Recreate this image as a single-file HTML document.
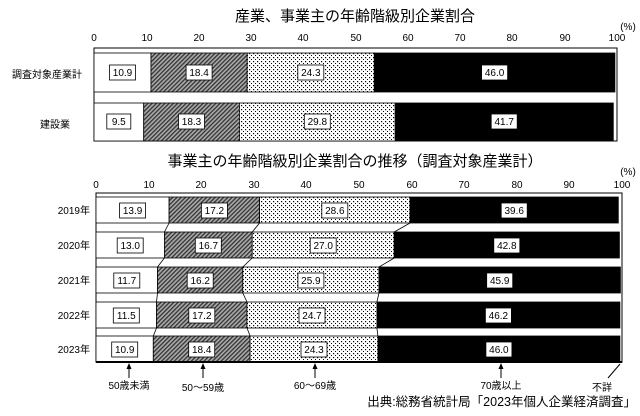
<!DOCTYPE html>
<html><head><meta charset="utf-8"><style>
body{margin:0;background:#fff}
svg text{font-family:"Liberation Sans","Noto Sans CJK JP",sans-serif}
</style></head><body>
<svg width="640" height="411" viewBox="0 0 640 411" xmlns="http://www.w3.org/2000/svg">
<defs>
<pattern id="h" width="3" height="3" patternUnits="userSpaceOnUse" patternTransform="rotate(-45)">
<rect width="3" height="3" fill="#aaa"/><rect width="3" height="1.3" fill="#333"/></pattern>
<pattern id="d" width="4" height="4" patternUnits="userSpaceOnUse">
<rect width="4" height="4" fill="#fff"/><rect x="1" y="1" width="1.2" height="1.2" fill="#000"/><rect x="3" y="3" width="1.2" height="1.2" fill="#000"/></pattern>
</defs>
<g font-size="14" text-anchor="middle" fill="#000">
<text x="355" y="21" font-size="15">産業、事業主の年齢階級別企業割合</text>
<text x="355" y="166" font-size="15">事業主の年齢階級別企業割合の推移（調査対象産業計）</text>
</g>
<g font-size="10" text-anchor="middle">
<text x="628" y="30">(%)</text>
<text x="94" y="41">0</text><text x="147" y="41">10</text><text x="199" y="41">20</text><text x="251" y="41">30</text><text x="303" y="41">40</text><text x="356" y="41">50</text><text x="408" y="41">60</text><text x="460" y="41">70</text><text x="512" y="41">80</text><text x="565" y="41">90</text><text x="617" y="41">100</text>
<text x="628" y="175">(%)</text>
<text x="96" y="188">0</text><text x="149" y="188">10</text><text x="201" y="188">20</text><text x="254" y="188">30</text><text x="306" y="188">40</text><text x="359" y="188">50</text><text x="412" y="188">60</text><text x="464" y="188">70</text><text x="517" y="188">80</text><text x="569" y="188">90</text><text x="622" y="188">100</text>
</g>
<!-- top chart -->
<rect x="94" y="48" width="523" height="93" fill="#fff" stroke="#000"/>
<g stroke="#000" stroke-width="0.8">
<rect x="94" y="53" width="57" height="39" fill="#fff"/>
<rect x="151" y="53" width="96.2" height="39" fill="url(#h)"/>
<rect x="247.2" y="53" width="127.1" height="39" fill="url(#d)"/>
<rect x="374.3" y="53" width="240.6" height="39" fill="#000"/>
<rect x="94" y="103" width="49.7" height="38" fill="#fff"/>
<rect x="143.7" y="103" width="95.7" height="38" fill="url(#h)"/>
<rect x="239.4" y="103" width="155.8" height="38" fill="url(#d)"/>
<rect x="395.2" y="103" width="218.1" height="38" fill="#000"/>
</g>
<g font-size="10" text-anchor="end">
<text x="82" y="78">調査対象産業計</text>
<text x="70" y="128">建設業</text>
<text x="90" y="214">2019年</text><text x="90" y="249">2020年</text><text x="90" y="284">2021年</text><text x="90" y="319">2022年</text><text x="90" y="353">2023年</text>
</g>
<!-- bottom chart -->
<rect x="96" y="193" width="526" height="169" fill="#fff" stroke="#000"/>
<g stroke="#000" stroke-width="0.8">
<rect x="96" y="197" width="73.1" height="26" fill="#fff"/><rect x="169.1" y="197" width="90.5" height="26" fill="url(#h)"/><rect x="259.6" y="197" width="150.4" height="26" fill="url(#d)"/><rect x="410" y="197" width="208.3" height="26" fill="#000"/>
<rect x="96" y="232" width="68.4" height="26" fill="#fff"/><rect x="164.4" y="232" width="87.8" height="26" fill="url(#h)"/><rect x="252.2" y="232" width="142" height="26" fill="url(#d)"/><rect x="394.2" y="232" width="225.2" height="26" fill="#000"/>
<rect x="96" y="267" width="61.5" height="26" fill="#fff"/><rect x="157.5" y="267" width="85.3" height="26" fill="url(#h)"/><rect x="242.8" y="267" width="136.2" height="26" fill="url(#d)"/><rect x="379" y="267" width="241.4" height="26" fill="#000"/>
<rect x="96" y="302" width="60.5" height="26" fill="#fff"/><rect x="156.5" y="302" width="90.5" height="26" fill="url(#h)"/><rect x="247" y="302" width="129.9" height="26" fill="url(#d)"/><rect x="376.9" y="302" width="243" height="26" fill="#000"/>
<rect x="96" y="336" width="57.3" height="26" fill="#fff"/><rect x="153.3" y="336" width="96.8" height="26" fill="url(#h)"/><rect x="250.1" y="336" width="127.8" height="26" fill="url(#d)"/><rect x="377.9" y="336" width="242" height="26" fill="#000"/>
<polyline fill="none" points="169.1,223 164.4,232"/><polyline fill="none" points="259.6,223 252.2,232"/><polyline fill="none" points="410,223 394.2,232"/>
<polyline fill="none" points="164.4,258 157.5,267"/><polyline fill="none" points="252.2,258 242.8,267"/><polyline fill="none" points="394.2,258 379,267"/>
<polyline fill="none" points="157.5,293 156.5,302"/><polyline fill="none" points="242.8,293 247,302"/><polyline fill="none" points="379,293 376.9,302"/>
<polyline fill="none" points="156.5,328 153.3,336"/><polyline fill="none" points="247,328 250.1,336"/><polyline fill="none" points="376.9,328 377.9,336"/>
<line x1="96" y1="362" x2="622" y2="362" stroke-width="2"/>
</g>
<!-- value labels -->
<g font-size="10" text-anchor="middle">
<g fill="#fff" stroke="#000" stroke-width="0.8">
<rect x="109.5" y="65" width="26" height="15"/><rect x="186.1" y="65" width="26" height="15"/><rect x="297.8" y="65" width="26" height="15"/><rect x="481.6" y="65" width="26" height="15"/>
<rect x="106.8" y="114" width="24" height="15"/><rect x="178.5" y="114" width="26" height="15"/><rect x="304.3" y="114" width="26" height="15"/><rect x="491.2" y="114" width="26" height="15"/>
<rect x="119.6" y="203" width="26" height="15"/><rect x="201.4" y="203" width="26" height="15"/><rect x="321.8" y="203" width="26" height="15"/><rect x="501.2" y="203" width="26" height="15"/>
<rect x="117.2" y="238" width="26" height="15"/><rect x="195.3" y="238" width="26" height="15"/><rect x="310.2" y="238" width="26" height="15"/><rect x="493.8" y="238" width="26" height="15"/>
<rect x="113.8" y="273" width="26" height="15"/><rect x="187.2" y="273" width="26" height="15"/><rect x="297.9" y="273" width="26" height="15"/><rect x="486.7" y="273" width="26" height="15"/>
<rect x="113.3" y="308" width="26" height="15"/><rect x="188.8" y="308" width="26" height="15"/><rect x="299" y="308" width="26" height="15"/><rect x="485.4" y="308" width="26" height="15"/>
<rect x="111.7" y="342" width="26" height="15"/><rect x="188.7" y="342" width="26" height="15"/><rect x="301" y="342" width="26" height="15"/><rect x="485.9" y="342" width="26" height="15"/>
</g>
<text x="122.5" y="76">10.9</text><text x="199.1" y="76">18.4</text><text x="310.8" y="76">24.3</text><text x="494.6" y="76">46.0</text>
<text x="118.8" y="125">9.5</text><text x="191.5" y="125">18.3</text><text x="317.3" y="125">29.8</text><text x="504.2" y="125">41.7</text>
<text x="132.6" y="214">13.9</text><text x="214.4" y="214">17.2</text><text x="334.8" y="214">28.6</text><text x="514.2" y="214">39.6</text>
<text x="130.2" y="249">13.0</text><text x="208.3" y="249">16.7</text><text x="323.2" y="249">27.0</text><text x="506.8" y="249">42.8</text>
<text x="126.8" y="284">11.7</text><text x="200.2" y="284">16.2</text><text x="310.9" y="284">25.9</text><text x="499.7" y="284">45.9</text>
<text x="126.3" y="319">11.5</text><text x="201.8" y="319">17.2</text><text x="312" y="319">24.7</text><text x="498.4" y="319">46.2</text>
<text x="124.7" y="353">10.9</text><text x="201.7" y="353">18.4</text><text x="314" y="353">24.3</text><text x="498.9" y="353">46.0</text>
</g>
<!-- arrows -->
<g stroke="#000" stroke-width="1">
<line x1="129" y1="366" x2="129" y2="378"/><line x1="203" y1="366" x2="203" y2="378"/><line x1="315" y1="366" x2="315" y2="378"/><line x1="501" y1="366" x2="501" y2="378"/><line x1="620" y1="364" x2="608" y2="378"/>
</g>
<g fill="#000">
<polygon points="129,363 126.5,369 131.5,369"/><polygon points="203,363 200.5,369 205.5,369"/><polygon points="315,363 312.5,369 317.5,369"/><polygon points="501,363 498.5,369 503.5,369"/>
</g>
<g font-size="10" text-anchor="middle">
<text x="129" y="389">50歳未満</text><text x="203" y="391">50〜59歳</text><text x="315" y="389">60〜69歳</text><text x="501" y="389">70歳以上</text><text x="602" y="391">不詳</text>
</g>
<text x="636" y="406" font-size="12.5" text-anchor="end">出典:総務省統計局「2023年個人企業経済調査」</text>
</svg>
</body></html>
